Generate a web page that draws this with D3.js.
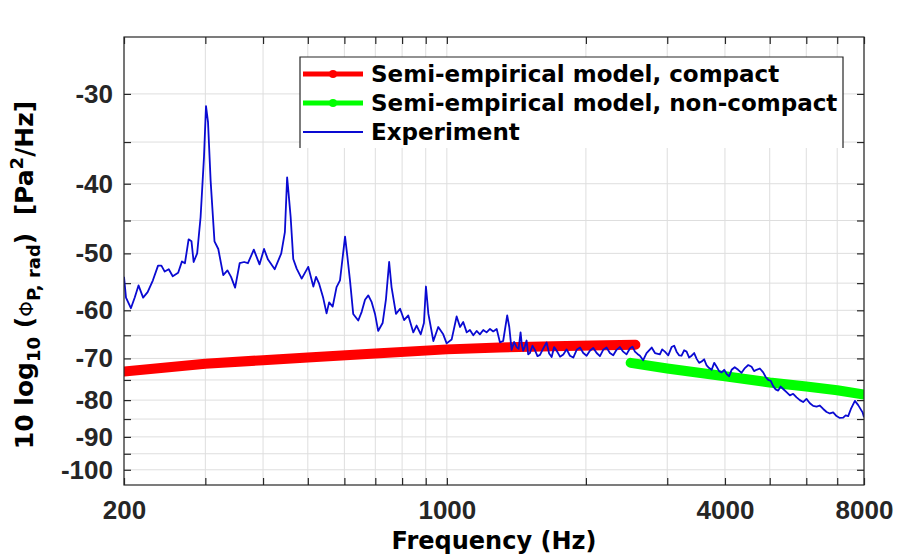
<!DOCTYPE html>
<html>
<head>
<meta charset="utf-8">
<script src="https://cdn.jsdelivr.net/npm/d3@7"></script>
<style>
  body { margin: 0; background: #fff; }
  svg { font-family: "DejaVu Sans", sans-serif; font-weight: bold; }
  .tick text { font-size: 26px; fill: #262626; }
  .tick line { stroke: #262626; stroke-width: 1.2; }
  .domain { display: none; }
</style>
</head>
<body>
<div id="chart"></div>
<script>
// x: frequency in Hz, y: 10 log10(Phi) in dB
const xTicks = [200, 300, 400, 500, 600, 700, 800, 900, 1000, 2000, 3000, 4000, 5000, 6000, 7000, 8000];
const xLabels = [200, 1000, 4000, 8000];
const yTicks = [-30, -35, -40, -45, -50, -55, -60, -65, -70, -75, -80, -85, -90, -95, -100];
const yLabels = [-30, -40, -50, -60, -70, -80, -90, -100];

const compactFreq = [200, 250, 300, 400, 500, 700, 1000, 1300, 1700, 2200, 2560];
const compactLevel = [-73, -72, -71.2, -70.4, -69.8, -68.9, -68.0, -67.6, -67.3, -67.1, -67.0];

const nonCompactFreq = [2500, 3000, 4000, 5000, 6000, 7000, 8000];
const nonCompactLevel = [-71, -72.3, -74.1, -75.6, -76.6, -77.5, -78.6];

const expFreq = [200, 202, 207, 211, 215, 220, 225, 231, 237, 241, 245, 250, 255, 262, 267, 271, 276, 280, 283, 288,
  293, 298, 301, 304, 308, 314, 320, 328, 335, 341, 348, 356, 364, 371, 382, 393, 402, 410, 424, 438,
  446, 451, 453, 459, 465, 473, 485, 501, 514, 521, 529, 540, 549, 556, 566, 577, 587, 602, 609, 617,
  627, 643, 654, 665, 676, 687, 699, 710, 726, 738, 750, 759, 776, 792, 808, 825, 846, 860, 878, 892,
  901, 912, 935, 958, 982, 999, 1024, 1050, 1068, 1085, 1104, 1122, 1141, 1160, 1179, 1199, 1219, 1240, 1260, 1282,
  1303, 1324, 1351, 1365, 1381, 1398, 1416, 1430, 1444, 1453, 1463, 1475, 1488, 1500, 1513, 1532, 1552, 1571, 1591, 1617,
  1644, 1665, 1686, 1707, 1729, 1758, 1787, 1817, 1847, 1878, 1910, 1942, 1974, 2007, 2040, 2075, 2110, 2145, 2180, 2217,
  2254, 2292, 2330, 2369, 2408, 2449, 2490, 2522, 2554, 2586, 2618, 2661, 2706, 2776, 2822, 2892, 2925, 2965, 3015, 3066,
  3105, 3143, 3182, 3222, 3263, 3304, 3346, 3388, 3431, 3474, 3517, 3561, 3606, 3651, 3697, 3744, 3791, 3838, 3886, 3935,
  3985, 4035, 4085, 4135, 4200, 4272, 4345, 4418, 4493, 4568, 4625, 4682, 4760, 4840, 4900, 4962, 5025, 5087, 5150, 5216,
  5280, 5347, 5437, 5529, 5620, 5717, 5810, 5906, 6005, 6109, 6210, 6316, 6420, 6528, 6640, 6749, 6860, 6976, 7090, 7212,
  7300, 7394, 7494, 7645, 7772, 7943, 8000];
const expLevel = [-53.9, -57.6, -59.6, -57.6, -55.4, -57.6, -56.6, -54.5, -52, -52, -53, -52.6, -53.8, -53.2, -51.3, -51.6, -47.8, -48.1, -51.4, -50,
  -44.5, -36.7, -31.2, -32.8, -39.6, -48.1, -49.3, -53.6, -52.8, -53.9, -55.8, -51.6, -51.4, -51.6, -49.4, -51.8, -49.3, -51, -52.6, -50,
  -46.7, -39.2, -40.4, -44.5, -50.9, -52.5, -54.2, -52.2, -55.6, -53.9, -55.1, -57.7, -60.6, -58.5, -59.3, -55.7, -54.5, -47.4, -50.5, -54.5,
  -60.7, -62, -60.3, -58, -57.2, -58.4, -60.7, -64.1, -62.5, -58, -51.4, -55.7, -60.7, -59.7, -61.9, -61, -64.4, -63, -64.8, -62.5,
  -55.6, -60.7, -66.2, -63.3, -64.8, -66.7, -65.9, -61.2, -63.3, -62.3, -64.4, -63.9, -65, -64.1, -64.8, -63.9, -64.4, -63.7, -64.2, -63.7,
  -66.5, -66.2, -61, -63.3, -68.1, -66.4, -67.5, -67.9, -64.4, -66.9, -68.3, -67.4, -66.1, -69.1, -68.8, -67.2, -68.2, -69.5, -69.2, -67.8,
  -66.5, -68.9, -69.7, -67.5, -68.3, -69.6, -69.1, -68.0, -69.4, -69.8, -68.1, -67.6, -68.8, -69.4, -68.3, -67.7, -68.8, -69.5, -68.1, -67.6,
  -68.8, -69.3, -68.1, -67.5, -68.5, -69.1, -67.8, -67.4, -68.5, -69.0, -69.4, -70.4, -68.8, -67.6, -68.8, -69.1, -68.0, -68.5, -69.3, -67.5,
  -67.2, -68.5, -69.3, -69.4, -68.2, -68.5, -69.8, -69.4, -68.8, -70.1, -71.0, -70.7, -70.2, -71.6, -72.2, -72.6, -71.0, -71.9, -72.9, -73.2,
  -72.6, -73.6, -74.1, -72.6, -72.0, -72.6, -73.3, -72.2, -71.5, -71.9, -72.9, -72.6, -72.3, -73.2, -74.3, -75, -75.2, -76.5, -77.3, -77.6,
  -76.6, -77.2, -78.0, -78.8, -78.4, -79.3, -80.0, -80.5, -79.7, -80.8, -81.5, -81.7, -81.4, -82.3, -83.1, -83.5, -83.2, -84.2, -84.7, -84.6,
  -84.0, -84.2, -82.3, -80.2, -81.3, -83.2, -84.5];

const width = 900, height = 556;
const margin = { top: 37, right: 36, bottom: 71, left: 124 };
const plotW = width - margin.left - margin.right;
const plotH = height - margin.top - margin.bottom;

const svg = d3.select("#chart").append("svg")
  .attr("width", width)
  .attr("height", height);

// x is log frequency; y is log of the (negated) level, as in the original figure
const xScale = d3.scaleLog().domain([200, 8000]).range([0, plotW]);
const yMag = d3.scaleLog().domain([25, 105]).range([0, plotH]);
const yScale = v => yMag(-v);

const g = svg.append("g").attr("transform", `translate(${margin.left},${margin.top})`);

g.append("clipPath").attr("id", "clip")
  .append("rect").attr("width", plotW).attr("height", plotH);

// grid
g.append("g").selectAll("line").data(xTicks).enter().append("line")
  .attr("x1", d => xScale(d)).attr("x2", d => xScale(d))
  .attr("y1", 0).attr("y2", plotH)
  .attr("stroke", "#dedede").attr("stroke-width", 1);
g.append("g").selectAll("line").data(yTicks).enter().append("line")
  .attr("x1", 0).attr("x2", plotW)
  .attr("y1", d => yScale(d)).attr("y2", d => yScale(d))
  .attr("stroke", "#dedede").attr("stroke-width", 1);

// axes
const bottomAxis = d3.axisBottom(xScale).tickValues(xTicks)
  .tickFormat(d => xLabels.includes(d) ? d : "")
  .tickSize(-7).tickPadding(16);
g.append("g").attr("transform", `translate(0,${plotH})`).call(bottomAxis);
g.append("g").call(d3.axisTop(xScale).tickValues(xTicks).tickFormat("").tickSize(-7));

const leftAxis = d3.axisLeft(yMag).tickValues(yTicks.map(d => -d))
  .tickFormat(d => yLabels.includes(-d) ? "-" + d : "")
  .tickSize(-7).tickPadding(11);
g.append("g").call(leftAxis);
g.append("g").attr("transform", `translate(${plotW},0)`)
  .call(d3.axisRight(yMag).tickValues(yTicks.map(d => -d)).tickFormat("").tickSize(-7));

// series
const line = d3.line().x(d => xScale(d[0])).y(d => yScale(d[1]));
const plot = g.append("g").attr("clip-path", "url(#clip)");

plot.append("path")
  .datum(compactFreq.map((f, i) => [f, compactLevel[i]]))
  .attr("d", line).attr("fill", "none")
  .attr("stroke", "#ff0000").attr("stroke-width", 10)
  .attr("stroke-linecap", "round").attr("stroke-linejoin", "round");

plot.append("path")
  .datum(nonCompactFreq.map((f, i) => [f, nonCompactLevel[i]]))
  .attr("d", line).attr("fill", "none")
  .attr("stroke", "#00ff00").attr("stroke-width", 10)
  .attr("stroke-linecap", "round").attr("stroke-linejoin", "round");

plot.append("path")
  .datum(expFreq.map((f, i) => [f, expLevel[i]]))
  .attr("d", line).attr("fill", "none")
  .attr("stroke", "#0a0ad2").attr("stroke-width", 1.8)
  .attr("stroke-linejoin", "round");

// box
g.append("rect").attr("width", plotW).attr("height", plotH)
  .attr("fill", "none").attr("stroke", "#262626").attr("stroke-width", 1.2);

// legend
const legendItems = [
  { name: "Semi-empirical model, compact", color: "#ff0000", w: 5, marker: true },
  { name: "Semi-empirical model, non-compact", color: "#00ff00", w: 5, marker: true },
  { name: "Experiment", color: "#0a0ad2", w: 1.8, marker: false }
];
const lg = svg.append("g").attr("transform", "translate(300,57)");
lg.append("rect").attr("width", 543).attr("height", 91).attr("fill", "#fff");
lg.append("path").attr("d", "M0,91V0H543V91")
  .attr("fill", "none").attr("stroke", "#262626").attr("stroke-width", 1.2);
const rows = lg.selectAll(".item").data(legendItems).enter().append("g")
  .attr("transform", (d, i) => `translate(0,${17 + i * 29})`);
rows.append("line").attr("x1", 3).attr("x2", 63)
  .attr("stroke", d => d.color).attr("stroke-width", d => d.w);
rows.filter(d => d.marker).append("circle").attr("cx", 33).attr("r", 4)
  .attr("fill", d => d.color);
rows.append("text").attr("x", 71).attr("dy", "0.36em")
  .attr("font-size", 23).attr("fill", "#000").text(d => d.name);

// axis titles
svg.append("text").attr("x", 494).attr("y", 549)
  .attr("text-anchor", "middle").attr("font-size", 24).attr("fill", "#000")
  .text("Frequency (Hz)");

const yl = svg.append("text")
  .attr("transform", "translate(33,275) rotate(-90)")
  .attr("text-anchor", "middle").attr("font-size", 25).attr("fill", "#000")
  .style("white-space", "pre");
yl.append("tspan").text("10 log");
yl.append("tspan").attr("font-size", 18).attr("dy", 7).text("10");
yl.append("tspan").attr("dy", -7).text(" (");
yl.append("tspan").attr("font-weight", "normal").attr("font-size", 20).text("\u03A6");
yl.append("tspan").attr("font-size", 18).attr("dy", 7).text("P, rad");
yl.append("tspan").attr("dy", -7).text(")  [Pa");
yl.append("tspan").attr("font-size", 18).attr("dy", -10).text("2");
yl.append("tspan").attr("dy", 10).text("/Hz]");
</script>
</body>
</html>
